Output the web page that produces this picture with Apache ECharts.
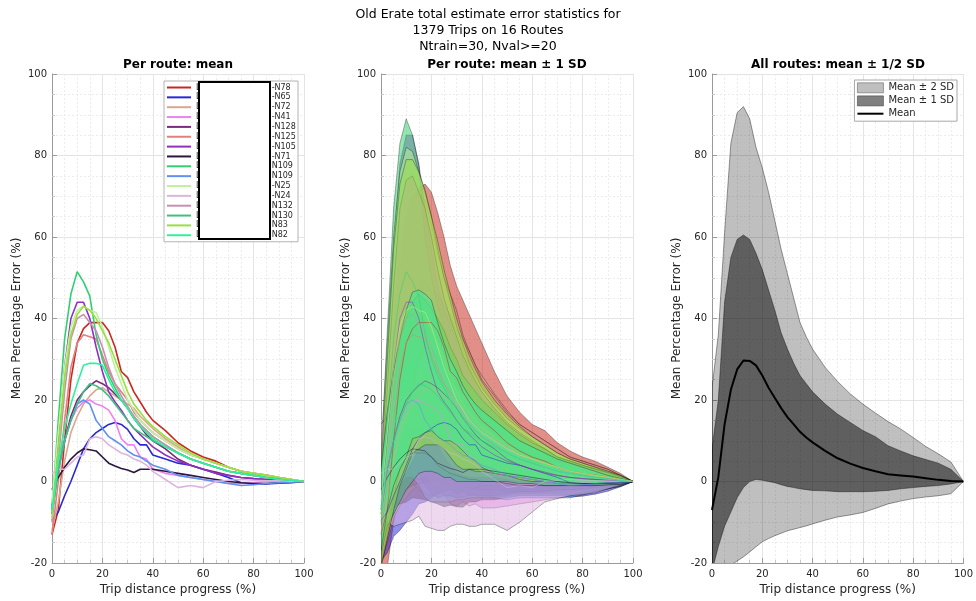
<!DOCTYPE html>
<html lang="en">
<head>
    <meta charset="UTF-8">
    <title>Old Erate total estimate error statistics</title>
    <script src="https://cdn.jsdelivr.net/npm/echarts@6/dist/echarts.min.js"></script>
</head>
<body style="margin:0">
    <div id="myChart" style="width: 976px;height: 601px;"></div>
    <script>
        // trip distance progress (%) where values were read
        var progress = [0, 2.5, 5, 7.5, 10, 12.5, 15, 17.5, 20, 22.5, 25, 27.5, 30, 32.5, 35, 37.5, 40, 45, 50, 55, 60, 65, 70, 75, 80, 85, 90, 95, 100];
        var xTicks = [0, 20, 40, 60, 80, 100];
        var yTicks = [-20, 0, 20, 40, 60, 80, 100];

        // legend text tails (the middle of each label is blanked out in the original)
        var routeTails = ['-N78', '-N65', '-N72', '-N41', '-N128', '-N125', '-N105', '-N71', 'N109', 'N109', '-N25', '-N24', 'N132', 'N130', 'N83', 'N82'];
        var routeColors = ['#c8281e', '#2828d8', '#d8a890', '#f080f0', '#7a2a7a', '#e08080', '#9030c0', '#2a1840', '#30d070', '#6090f0', '#c0f0a0', '#dcb4e0', '#c890b0', '#40c080', '#98e040', '#30f0a0'];

        // per route mean error (%)
        var meanN78  = [-13, -7, 10, 25, 34, 37.5, 39, 39, 39, 37, 33, 27, 25.5, 22, 19.5, 17, 15, 12.5, 9.5, 7.5, 6, 5, 3.5, 2.5, 2, 1.6, 1, 0.5, 0];
        var meanN65  = [-9.5, -7.5, -3.5, 0, 4, 8, 10.5, 12, 13, 14, 14.5, 14, 12.8, 10.5, 9, 9, 6.5, 5.5, 4.5, 4, 3, 2, 1, -0.3, -0.6, -0.6, -0.4, -0.3, 0];
        var meanN72  = [-12, -5, 5, 12, 16, 19, 21, 22.5, 23, 22, 21, 20, 19, 18, 16, 14.5, 13, 10.5, 8.5, 6.5, 5.5, 4.5, 3.5, 2.5, 2, 1.5, 1, 0.5, 0];
        var meanN41  = [-5, 3, 10, 15, 18, 19.5, 20, 19, 18.5, 17.5, 15, 10.5, 9, 9, 6, 5.5, 3, 2, 1.5, 1, 0.5, 0, -0.5, -0.5, -0.3, 0, 0, 0, 0];
        var meanN128 = [-8, 3, 10, 16, 20, 22, 23.5, 24.7, 24, 23, 21.5, 20, 18, 15.5, 13.5, 11.5, 10, 8, 5.5, 4, 3, 2.3, 1.5, 1, 0.7, 0.5, 0.3, 0.2, 0];
        var meanN125 = [-13, 0, 15, 28, 34, 36, 35.5, 35, 31, 27, 24, 22, 20, 17, 15, 13.5, 12, 10, 8, 6.5, 5.5, 4.5, 3.5, 2.5, 2, 1.5, 1, 0.5, 0];
        var meanN105 = [-7, 10, 28, 40, 44, 44, 40, 33, 27, 22, 19.5, 17.5, 15, 13, 11.5, 10, 8.5, 6.5, 5, 4, 3, 2, 1.5, 1, 0.7, 0.5, 0.3, 0.2, 0];
        var meanN71  = [-2, 1, 3.5, 5.5, 7, 8, 7.8, 7.5, 6, 4.5, 3.8, 3.2, 2.8, 2.2, 3, 3, 3, 2.5, 2, 1.5, 1, 0.5, 0, -0.3, -0.5, -0.5, -0.3, -0.2, 0];
        var meanN109a = [-7, 15, 35, 46, 51.5, 49, 45.5, 36, 30, 26, 23, 20, 18, 16, 14, 12.5, 11, 9, 7, 5.5, 4.5, 3.5, 2.5, 2, 1.5, 1, 0.7, 0.3, 0];
        var meanN109b = [-6, 3, 10, 15, 19, 20, 19, 15, 13, 11, 10, 9, 7.5, 6.5, 6, 5, 4, 3, 1.5, 1, 0.5, 0, -0.5, -1, -0.8, -0.5, -0.3, -0.2, 0];
        var meanN25  = [-5, 12, 28, 38, 42, 43, 42, 41.5, 38, 33, 28, 24, 20, 17.5, 15, 13.5, 12, 10, 8, 6.5, 5.5, 4.5, 3.5, 2.5, 2, 1.5, 1, 0.5, 0];
        var meanN24  = [2, 3, 3, 4.5, 6, 6.5, 10.5, 11, 10.5, 9, 8, 7, 6.5, 5.5, 5, 4, 2.5, 0.5, -1.5, -1, -1.5, 0, 0.3, 0.5, 0.3, 0.2, 0.2, 0.1, 0];
        var meanN132 = [-10, 5, 22, 35, 40, 41, 39, 37, 33, 28, 24, 21, 18.5, 16, 14, 12.5, 11, 9, 7, 5.5, 4.5, 3.5, 2.5, 2, 1.5, 1, 0.7, 0.3, 0];
        var meanN130 = [-8, 3, 10, 15, 19, 22, 24, 23.5, 22.5, 21, 19, 17, 15, 13, 12, 11, 10, 8.5, 7, 5.5, 4.5, 3.5, 2.5, 2, 1.5, 1, 0.7, 0.3, 0];
        var meanN83  = [-9, 8, 25, 36, 41, 43, 42, 40, 37, 34, 30, 26, 22, 19, 17, 15, 13.5, 11, 9, 7, 5.5, 4.5, 3.5, 2.5, 2, 1.5, 1, 0.5, 0];
        var meanN82  = [-7, 5, 13, 19, 24, 28.5, 29, 29, 28.5, 25, 22, 20, 18, 15.5, 13.5, 12, 10.5, 8.5, 7, 5.5, 4.5, 3.5, 2.5, 2, 1.5, 1, 0.5, 0.3, 0];

        // per route standard deviation (%)
        var sdN78  = [10, 14, 20, 27, 30, 32, 33, 34, 32, 29, 27, 26, 22.5, 22.5, 21.5, 20.5, 19, 14.5, 11.5, 9.5, 8, 7.5, 6, 5, 4, 3.4, 2.5, 1.5, 0];
        var sdN65  = [10, 10, 10, 12, 14, 16, 16, 17, 17, 17, 17, 16, 16, 13, 12.5, 12, 10, 9.5, 8, 7, 6, 5, 4, 3.5, 3, 2.5, 2, 1, 0];
        var sdN72  = [8, 10, 14, 18, 20, 21, 22, 22, 22, 21, 20, 19, 18, 17, 16, 14, 13, 11, 9, 7.5, 6.5, 5.5, 4.5, 3.5, 3, 2.5, 2, 1, 0];
        var sdN41  = [10, 12, 14, 16, 18, 20, 22, 22, 22, 20, 18, 16, 15, 14, 12, 11, 9.5, 8.5, 7.5, 6.5, 5.5, 4.5, 3.5, 3, 2.5, 2, 1.5, 1, 0];
        var sdN128 = [10, 14, 18, 20, 22, 23, 24, 25, 24, 23, 22, 21, 19, 17, 15, 13.5, 12, 10, 8, 6.5, 5.5, 4.5, 3.5, 3, 2.5, 2, 1.5, 1, 0];
        var sdN125 = [8, 14, 22, 28, 32, 34, 35, 34, 32, 29, 26, 24, 22, 19, 17, 15, 13, 11, 9, 7.5, 6.5, 5.5, 4.5, 3.5, 3, 2.5, 2, 1, 0];
        var sdN105 = [12, 20, 30, 38, 41, 41, 38, 34, 30, 26, 23, 21, 19, 17, 15, 13.5, 12, 10, 8, 6.5, 5.5, 4.5, 3.5, 3, 2.5, 2, 1.5, 1, 0];
        var sdN71  = [8, 9, 10, 11, 12, 12, 12, 12, 11, 10, 10, 9, 9, 8.5, 8, 8, 7.5, 7, 6, 5, 4.5, 4, 3.5, 3, 2.5, 2, 1.5, 1, 0];
        var sdN109a = [12, 22, 32, 37, 37.5, 36, 32, 24, 20, 17, 15, 12, 9.5, 10, 10, 10, 9.5, 8.5, 7, 6, 5, 4.5, 3.5, 3, 2.5, 2, 1.5, 1, 0];
        var sdN109b = [10, 12, 14, 16, 18, 19, 20, 19, 18, 16, 15, 14, 12, 11, 10, 9, 8, 7, 6, 5, 4.5, 4, 3.5, 3, 2.5, 2, 1.5, 1, 0];
        var sdN25  = [12, 22, 32, 38, 40, 38, 34, 30, 27, 24, 22, 20, 18, 16, 14, 12.5, 11, 9, 7.5, 6.5, 5.5, 4.5, 3.5, 3, 2.5, 2, 1.5, 1, 0];
        var sdN24  = [12, 13, 14, 15, 16, 16, 19, 22, 22, 21, 20, 18, 17, 16, 16, 15, 13, 11, 10.5, 9, 6, 5, 4.5, 4, 3.5, 3, 2, 1, 0];
        var sdN132 = [10, 18, 26, 32, 34, 34, 32, 30, 27, 24, 21, 19, 17, 15, 13.5, 12, 11, 9, 7.5, 6.5, 5.5, 4.5, 3.5, 3, 2.5, 2, 1.5, 1, 0];
        var sdN130 = [10, 14, 18, 20, 21, 22, 22, 21, 20, 19, 18, 16, 15, 13, 12, 11, 10, 8.5, 7, 6, 5, 4.5, 3.5, 3, 2.5, 2, 1.5, 1, 0];
        var sdN83  = [12, 22, 32, 37, 38, 36, 34, 31, 28, 25, 22, 20, 18, 16, 14, 12.5, 11, 9, 7.5, 6.5, 5.5, 4.5, 3.5, 3, 2.5, 2, 1.5, 1, 0];
        var sdN82  = [10, 12, 14, 16, 18, 18, 18, 17, 16, 14, 12, 10, 9, 8, 7.5, 7, 7, 6.5, 5.5, 4.5, 4, 3.5, 3, 2.5, 2, 1.5, 1, 0.5, 0];

        // all routes together
        var allMean    = [-7, 1, 14, 22.5, 27.5, 29.7, 29.6, 28.5, 26, 23, 20.5, 18, 15.8, 14, 12.2, 10.8, 9.6, 7.5, 5.7, 4.4, 3.3, 2.5, 1.8, 1.5, 1.2, 0.8, 0.4, 0.1, 0];
        var all1Upper  = [8, 20, 44, 55, 59.4, 60.5, 59.4, 56, 52, 47, 42, 36.5, 32.5, 29, 26, 24, 22, 19, 16.5, 14.5, 12.5, 11, 8.8, 7.5, 6.3, 5.4, 4.5, 3, 0];
        var all1Lower  = [-22, -16, -11, -7.5, -4, -1.5, 0, 0.5, 0.3, 0, -0.3, -0.8, -1.2, -1.5, -1.8, -2, -2.2, -2.3, -2.5, -2.5, -2.5, -2.4, -2.2, -1.8, -1.5, -1.2, -1, -0.6, 0];
        var all2Upper  = [23, 36, 61, 83, 90.5, 92, 89, 82, 77, 71, 64, 57, 51, 45, 39, 35.5, 32.5, 28, 24.5, 21.5, 19, 16.8, 14.7, 12.9, 10.8, 8.6, 6.8, 4.8, 0];
        var all2Lower  = [-40, -32, -25, -20.5, -19.5, -18.5, -17.3, -16, -14.8, -14, -13.3, -12.7, -12.1, -11.7, -11.3, -10.9, -10.4, -9.5, -8.7, -8.2, -7.6, -6.6, -5.5, -4.8, -4.2, -3.8, -3.5, -3, 0];

        var routeMeans = [meanN78, meanN65, meanN72, meanN41, meanN128, meanN125, meanN105, meanN71, meanN109a, meanN109b, meanN25, meanN24, meanN132, meanN130, meanN83, meanN82];
        var routeSds = [sdN78, sdN65, sdN72, sdN41, sdN128, sdN125, sdN105, sdN71, sdN109a, sdN109b, sdN25, sdN24, sdN132, sdN130, sdN83, sdN82];

        var font = 'DejaVu Sans';
        var panelLeft = [52, 381, 712];
        var titles = ['Per route: mean', 'Per route: mean \u00b1 1 SD', 'All routes: mean \u00b1 1/2 SD'];

        function pairs(vals) {
            return progress.map(function (x, i) { return [x, vals[i]]; });
        }

        function hexToRgba(hex, a) {
            var n = parseInt(hex.slice(1), 16);
            return 'rgba(' + (n >> 16) + ',' + ((n >> 8) & 255) + ',' + (n & 255) + ',' + a + ')';
        }

        // filled band between upper and lower, drawn through the axis scales
        function band(name, gi, upper, lower, fill, stroke) {
            return {
                type: 'custom',
                name: name,
                xAxisIndex: gi,
                yAxisIndex: gi,
                data: [[0, 0]],
                encode: { x: 0, y: 1 },
                silent: true,
                itemStyle: { color: fill },
                renderItem: function (params, api) {
                    var pts = [];
                    for (var i = 0; i < progress.length; i++) pts.push(api.coord([progress[i], upper[i]]));
                    for (var j = progress.length - 1; j >= 0; j--) pts.push(api.coord([progress[j], lower[j]]));
                    var cs = params.coordSys;
                    return {
                        type: 'polygon',
                        shape: { points: pts },
                        style: { fill: fill, stroke: stroke, lineWidth: 0.7 },
                        clipPath: { type: 'rect', shape: { x: cs.x, y: cs.y, width: cs.width, height: cs.height } }
                    };
                }
            };
        }

        function legendName(i) {
            // 28 spaces stand in for the hidden part of the label
            return 'L' + new Array(29).join(' ') + routeTails[i] + (i === 9 ? ' ' : '');
        }

        var grids = [], xAxes = [], yAxes = [], titleList = [];
        titleList.push({
            text: 'Old Erate total estimate error statistics for\n1379 Trips on 16 Routes\nNtrain=30, Nval>=20',
            left: 488, top: 7, textAlign: 'center', padding: 0,
            textStyle: { fontFamily: font, fontSize: 12.5, fontWeight: 'normal', lineHeight: 16, color: '#000' }
        });
        for (var g = 0; g < 3; g++) {
            grids.push({ left: panelLeft[g], top: 74, width: 252, height: 491, containLabel: false });
            titleList.push({
                text: titles[g], left: panelLeft[g] + 126, top: 58, textAlign: 'center', padding: 0,
                textStyle: { fontFamily: font, fontSize: 12, fontWeight: 'bold', lineHeight: 14, color: '#000' }
            });
            var axisCommon = {
                gridIndex: g,
                type: 'value',
                nameLocation: 'middle',
                nameTextStyle: { fontFamily: font, fontSize: 12, color: '#262626' },
                axisLine: { show: true, onZero: false, lineStyle: { color: '#9a9a9a', width: 1 } },
                axisTick: { show: true, inside: true, length: 5, lineStyle: { color: '#9a9a9a' } },
                minorTick: { show: true, splitNumber: 4, length: 3, lineStyle: { color: '#c8c8c8' } },
                axisLabel: { fontFamily: font, fontSize: 10, color: '#262626' },
                splitLine: { show: true, lineStyle: { color: '#e4e4e4', width: 1 } },
                minorSplitLine: { show: true, lineStyle: { color: '#ececec', width: 1, type: [2, 2] } }
            };
            xAxes.push(Object.assign({}, axisCommon, {
                min: xTicks[0], max: xTicks[xTicks.length - 1], interval: 20,
                name: 'Trip distance progress (%)', nameGap: 21,
                axisLabel: Object.assign({}, axisCommon.axisLabel, { margin: 6 })
            }));
            yAxes.push(Object.assign({}, axisCommon, {
                min: yTicks[0], max: yTicks[yTicks.length - 1], interval: 20,
                name: 'Mean Percentage Error (%)', nameGap: 29,
                axisLabel: Object.assign({}, axisCommon.axisLabel, { margin: 5 })
            }));
        }

        var series = [];
        // panel 1: per route mean lines
        for (var r = 0; r < routeMeans.length; r++) {
            series.push({
                type: 'line', name: legendName(r), xAxisIndex: 0, yAxisIndex: 0,
                data: pairs(routeMeans[r]), symbol: 'none', silent: true,
                itemStyle: { color: routeColors[r] },
                lineStyle: { color: routeColors[r], width: 1.6 }
            });
        }
        // panel 2: per route mean line, then its mean +- 1 SD band over it
        for (var k = 0; k < routeMeans.length; k++) {
            var up = [], lo = [];
            for (var p = 0; p < progress.length; p++) {
                up.push(routeMeans[k][p] + routeSds[k][p]);
                lo.push(routeMeans[k][p] - routeSds[k][p]);
            }
            series.push({
                type: 'line', name: 'mean ' + k, xAxisIndex: 1, yAxisIndex: 1,
                data: pairs(routeMeans[k]), symbol: 'none', silent: true,
                lineStyle: { color: routeColors[k], width: 0.9, opacity: 0.6 }
            });
            series.push(band('band ' + k, 1, up, lo, hexToRgba(routeColors[k], 0.52), 'rgba(0,0,0,0.45)'));
        }
        // panel 3: all routes
        series.push(band('Mean \u00b1 2 SD', 2, all2Upper, all2Lower, 'rgba(0,0,0,0.25)', 'rgba(0,0,0,0.55)'));
        series.push(band('Mean \u00b1 1 SD', 2, all1Upper, all1Lower, 'rgba(0,0,0,0.5)', 'rgba(0,0,0,0.55)'));
        series.push({
            type: 'line', name: 'Mean', xAxisIndex: 2, yAxisIndex: 2,
            data: pairs(allMean), symbol: 'none', silent: true,
            itemStyle: { color: '#000' },
            lineStyle: { color: '#000', width: 2 }
        });

        var myChart = echarts.init(document.getElementById('myChart'));
        var option = {
            animation: false,
            backgroundColor: '#fff',
            textStyle: { fontFamily: font },
            title: titleList,
            grid: grids,
            xAxis: xAxes,
            yAxis: yAxes,
            legend: [{
                orient: 'vertical', left: 164, top: 81,
                data: routeMeans.map(function (m, i) { return legendName(i); }),
                itemWidth: 24, itemHeight: 8, itemGap: 0.85,
                padding: [2, 2, 2, 2],
                backgroundColor: '#fff', borderColor: '#b4b4b4', borderWidth: 1,
                selectedMode: false,
                itemStyle: { opacity: 0 },
                textStyle: { fontFamily: font, fontSize: 8, lineHeight: 9, color: '#262626', width: 100 }
            }, {
                orient: 'vertical', right: 19, top: 80,
                data: [
                    { name: 'Mean \u00b1 2 SD', icon: 'rect', itemStyle: { color: '#bfbfbf', borderColor: '#666', borderWidth: 0.6, opacity: 1 } },
                    { name: 'Mean \u00b1 1 SD', icon: 'rect', itemStyle: { color: '#808080', borderColor: '#444', borderWidth: 0.6, opacity: 1 } },
                    { name: 'Mean', itemStyle: { opacity: 0 } }
                ],
                itemWidth: 26, itemHeight: 10, itemGap: 2.5,
                padding: [2.5, 3, 2.5, 2],
                backgroundColor: '#fff', borderColor: '#a8a8a8', borderWidth: 1,
                selectedMode: false,
                textStyle: { fontFamily: font, fontSize: 10, lineHeight: 10, color: '#262626' }
            }],
            graphic: [{
                // blanked-out middle part of the route names
                type: 'rect', z: 100,
                shape: { x: 199, y: 82, width: 71, height: 157 },
                style: { fill: '#fff', stroke: '#000', lineWidth: 2 }
            }],
            series: series
        };
        myChart.setOption(option);
    </script>
</body>
</html>
